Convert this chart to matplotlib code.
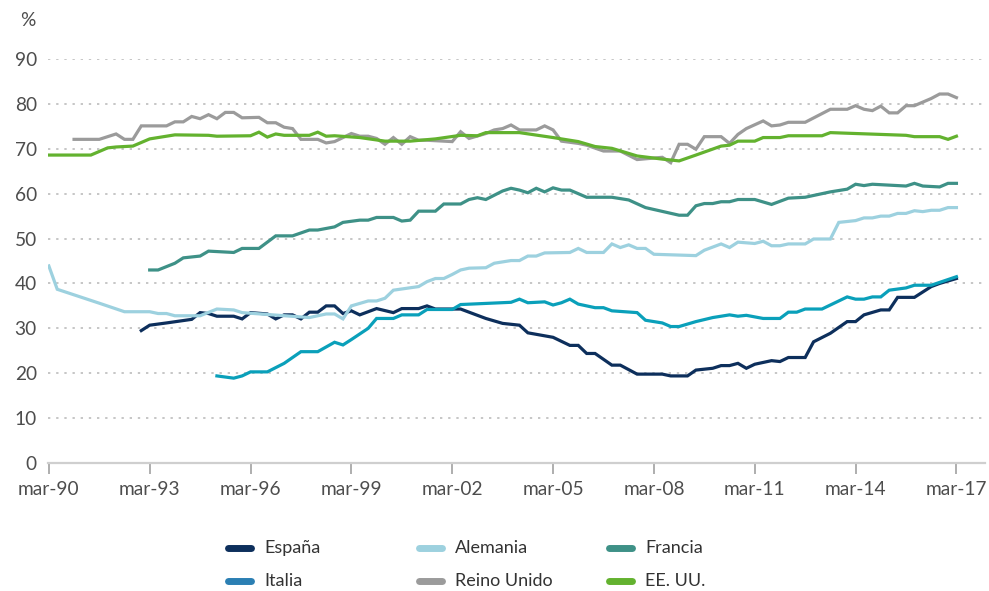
import matplotlib
matplotlib.use("Agg")
import matplotlib.pyplot as plt
from matplotlib.lines import Line2D

plt.rcParams['font.family'] = ['Lato', 'DejaVu Sans']

# x values: quarters elapsed since March 1990 (0 = mar-90, 108 = mar-17)
tick_quarters = [0, 12, 24, 36, 48, 60, 72, 84, 96, 108]
tick_labels = ["mar-90", "mar-93", "mar-96", "mar-99", "mar-02",
               "mar-05", "mar-08", "mar-11", "mar-14", "mar-17"]
y_ticks = [0, 10, 20, 30, 40, 50, 60, 70, 80, 90]

espana_q = [11, 12, 14, 17, 18, 19, 20, 22, 23, 24, 26, 27, 28, 29, 30, 31, 32, 33, 34, 35,
            36, 37, 39, 41, 42, 44, 45, 46, 49, 52, 54, 56, 57, 60, 62, 63, 64, 65, 67, 68,
            70, 73, 74, 76, 77, 79, 80, 81, 82, 83, 84, 86, 87, 88, 90, 91, 93, 95, 96, 97,
            99, 100, 101, 103, 105, 106, 108]
espana_v = [29.5, 30.7, 31.2, 32.0, 33.5, 33.3, 32.7, 32.7, 32.1, 33.5, 33.2, 32.1, 33.0, 33.0,
            32.1, 33.6, 33.6, 35.0, 35.0, 33.3, 33.9, 33.0, 34.4, 33.5, 34.4, 34.4, 35.0, 34.3,
            34.3, 32.2, 31.1, 30.7, 29.0, 28.0, 26.2, 26.2, 24.4, 24.4, 21.8, 21.8, 19.8, 19.8,
            19.4, 19.4, 20.7, 21.1, 21.7, 21.7, 22.2, 21.1, 22.0, 22.8, 22.6, 23.5, 23.5, 27.0,
            28.9, 31.5, 31.5, 33.0, 34.1, 34.1, 36.9, 36.9, 39.3, 40.0, 41.1]

alemania_q = [0, 1, 6, 9, 12, 13, 14, 15, 18, 20, 22, 23, 31, 33, 34, 35, 36, 38, 39, 40,
              41, 44, 45, 46, 47, 48, 49, 50, 52, 53, 55, 56, 57, 58, 59, 62, 63, 64, 66, 67,
              68, 69, 70, 71, 72, 77, 78, 80, 81, 82, 84, 85, 86, 87, 88, 90, 91, 93, 94, 95,
              96, 97, 98, 99, 100, 101, 102, 103, 104, 105, 106, 107, 108]
alemania_v = [43.9, 38.7, 35.6, 33.7, 33.7, 33.3, 33.3, 32.8, 32.8, 34.3, 34.1, 33.5, 32.4,
              33.2, 33.2, 32.1, 35.0, 36.1, 36.1, 36.7, 38.5, 39.3, 40.4, 41.1, 41.1, 42.0,
              43.0, 43.4, 43.5, 44.5, 45.1, 45.1, 46.1, 46.1, 46.8, 46.9, 47.8, 46.9, 46.9,
              48.8, 48.0, 48.6, 47.8, 47.8, 46.5, 46.2, 47.4, 48.8, 48.0, 49.2, 48.9, 49.4,
              48.4, 48.4, 48.8, 48.8, 49.9, 49.9, 53.6, 53.8, 54.0, 54.6, 54.6, 55.0, 55.0,
              55.6, 55.6, 56.2, 56.0, 56.3, 56.3, 56.9, 56.9]

francia_q = [12, 13, 15, 16, 18, 19, 22, 23, 25, 27, 29, 31, 32, 34, 35, 37, 38, 39, 41, 42,
             43, 44, 46, 47, 49, 50, 51, 52, 54, 55, 56, 57, 58, 59, 60, 61, 62, 64, 67, 69,
             71, 75, 76, 77, 78, 79, 80, 81, 82, 84, 86, 88, 90, 93, 95, 96, 97, 98, 102, 103,
             104, 106, 107, 108]
francia_v = [43.0, 43.0, 44.5, 45.7, 46.1, 47.2, 46.9, 47.8, 47.8, 50.6, 50.6, 51.9, 51.9,
             52.6, 53.6, 54.1, 54.1, 54.7, 54.7, 53.9, 54.1, 56.1, 56.1, 57.7, 57.7, 58.7,
             59.1, 58.7, 60.6, 61.2, 60.8, 60.2, 61.2, 60.4, 61.3, 60.8, 60.8, 59.2, 59.2,
             58.6, 56.9, 55.2, 55.2, 57.3, 57.8, 57.8, 58.2, 58.2, 58.7, 58.7, 57.6, 59.0,
             59.2, 60.4, 61.0, 62.1, 61.8, 62.1, 61.7, 62.3, 61.7, 61.5, 62.3, 62.3]

italia_q = [20, 22, 23, 24, 26, 28, 30, 32, 34, 35, 36, 38, 39, 41, 42, 44, 45, 48, 49, 55,
            56, 57, 59, 60, 61, 62, 63, 65, 66, 67, 70, 71, 73, 74, 75, 77, 79, 81, 82, 83,
            85, 87, 88, 89, 90, 92, 95, 96, 97, 98, 99, 100, 102, 103, 105, 108]
italia_v = [19.4, 18.9, 19.4, 20.3, 20.3, 22.2, 24.8, 24.8, 26.9, 26.3, 27.5, 30.0, 32.2,
            32.2, 33.0, 33.0, 34.2, 34.2, 35.3, 35.8, 36.5, 35.7, 35.9, 35.2, 35.7, 36.5,
            35.4, 34.6, 34.6, 33.9, 33.5, 31.8, 31.2, 30.4, 30.4, 31.5, 32.4, 33.0, 32.7,
            32.9, 32.2, 32.2, 33.6, 33.6, 34.3, 34.3, 37.0, 36.5, 36.5, 37.0, 37.0, 38.5,
            39.0, 39.6, 39.6, 41.5]

reino_q = [3, 6, 7, 8, 9, 10, 11, 14, 15, 16, 17, 18, 19, 20, 21, 22, 23, 25, 26, 27, 28,
           29, 30, 32, 33, 34, 36, 37, 38, 39, 40, 41, 42, 43, 44, 45, 47, 48, 49, 50, 52,
           53, 54, 55, 56, 58, 59, 60, 61, 63, 64, 66, 68, 70, 73, 74, 75, 76, 77, 78, 80,
           81, 82, 83, 85, 86, 87, 88, 90, 93, 95, 96, 97, 98, 99, 100, 101, 102, 103, 105,
           106, 107, 108]
reino_v = [72.1, 72.1, 72.7, 73.3, 72.1, 72.1, 75.1, 75.1, 76.0, 76.0, 77.2, 76.7, 77.6,
           76.7, 78.1, 78.1, 76.9, 77.0, 75.8, 75.8, 74.8, 74.5, 72.1, 72.1, 71.3, 71.6,
           73.4, 72.8, 72.8, 72.3, 71.0, 72.5, 71.0, 72.7, 71.9, 71.9, 71.7, 71.6, 73.8,
           72.3, 73.4, 74.2, 74.5, 75.3, 74.2, 74.2, 75.1, 74.2, 71.7, 71.2, 70.8, 69.5,
           69.5, 67.6, 68.1, 66.9, 71.0, 71.0, 69.9, 72.7, 72.7, 71.2, 73.2, 74.5, 76.2,
           75.1, 75.3, 75.9, 75.9, 78.8, 78.8, 79.6, 78.8, 78.5, 79.5, 78.0, 78.0, 79.6,
           79.6, 81.2, 82.2, 82.2, 81.4]

eeuu_q = [0, 5, 7, 8, 10, 12, 15, 19, 20, 24, 25, 26, 27, 28, 31, 32, 33, 34, 37, 40, 43,
          46, 49, 51, 52, 56, 60, 63, 65, 67, 70, 73, 75, 77, 80, 81, 82, 84, 85, 87, 88,
          92, 93, 102, 103, 106, 107, 108]
eeuu_v = [68.6, 68.6, 70.2, 70.4, 70.6, 72.2, 73.1, 73.0, 72.8, 72.9, 73.7, 72.6, 73.3,
          73.0, 73.0, 73.7, 72.8, 72.9, 72.5, 71.7, 71.7, 72.2, 73.0, 72.9, 73.6, 73.6,
          72.5, 71.6, 70.5, 70.1, 68.4, 67.7, 67.3, 68.6, 70.6, 70.8, 71.7, 71.7, 72.5,
          72.5, 72.9, 72.9, 73.6, 73.0, 72.7, 72.7, 72.1, 72.8]

series = [
    ("España", espana_q, espana_v, "#0d2f5c", "#0d2f5c"),
    ("Alemania", alemania_q, alemania_v, "#9dd1df", "#9dd1df"),
    ("Francia", francia_q, francia_v, "#3e9187", "#3e9187"),
    ("Italia", italia_q, italia_v, "#0aa0ba", "#2b7fb3"),
    ("Reino Unido", reino_q, reino_v, "#9b9b9b", "#9b9b9b"),
    ("EE. UU.", eeuu_q, eeuu_v, "#63b22f", "#63b22f"),
]

fig = plt.figure(figsize=(9.89, 5.91), dpi=100)
ax = fig.add_axes([48 / 989, 1 - 463 / 591, (985 - 48) / 989, (463 - 59) / 591])

for name, q, v, col, _ in series:
    ax.plot(q, v, color=col, lw=2.3, solid_joinstyle="miter", zorder=3)

ax.set_xlim(-0.1, 111.4)
ax.set_ylim(0, 90)

for yv in y_ticks[1:]:
    ax.axhline(yv, color="#c6c6c6", lw=1.4, linestyle=(0, (1.2, 3.0)), zorder=1)

for s in ["top", "right", "left"]:
    ax.spines[s].set_visible(False)
ax.spines["bottom"].set_color("#cfcfcf")
ax.spines["bottom"].set_linewidth(1.6)

tick_color = "#4d4d4d"
ax.set_xticks(tick_quarters)
ax.set_xticklabels(tick_labels)
ax.set_yticks(y_ticks)
ax.set_yticklabels([str(y) for y in y_ticks])
ax.tick_params(axis="x", direction="out", length=8, width=1.3, color="#a8a8a8",
               labelsize=13.8, labelcolor=tick_color, pad=5)
ax.tick_params(axis="y", length=0, labelsize=13.8, labelcolor=tick_color, pad=8)

fig.text(28 / 989, 1 - 21 / 591, "%", ha="center", va="center", fontsize=13.8,
         color=tick_color)

# legend (manual layout)
legend_cols_x = [225, 416, 606]
legend_rows_y = [548, 581]
for i, (name, q, v, _, lcol) in enumerate(series):
    row, col = divmod(i, 3)
    x0 = legend_cols_x[col]
    yc = legend_rows_y[row]
    fy = 1 - yc / 591
    fig.add_artist(Line2D([(x0 + 3) / 989, (x0 + 26) / 989], [fy, fy], color=lcol,
                          lw=5, solid_capstyle="round", transform=fig.transFigure))
    fig.text((x0 + 39) / 989, fy, name, ha="left", va="center", fontsize=13,
             color="#333333")

fig.savefig("out.png", dpi=100)
